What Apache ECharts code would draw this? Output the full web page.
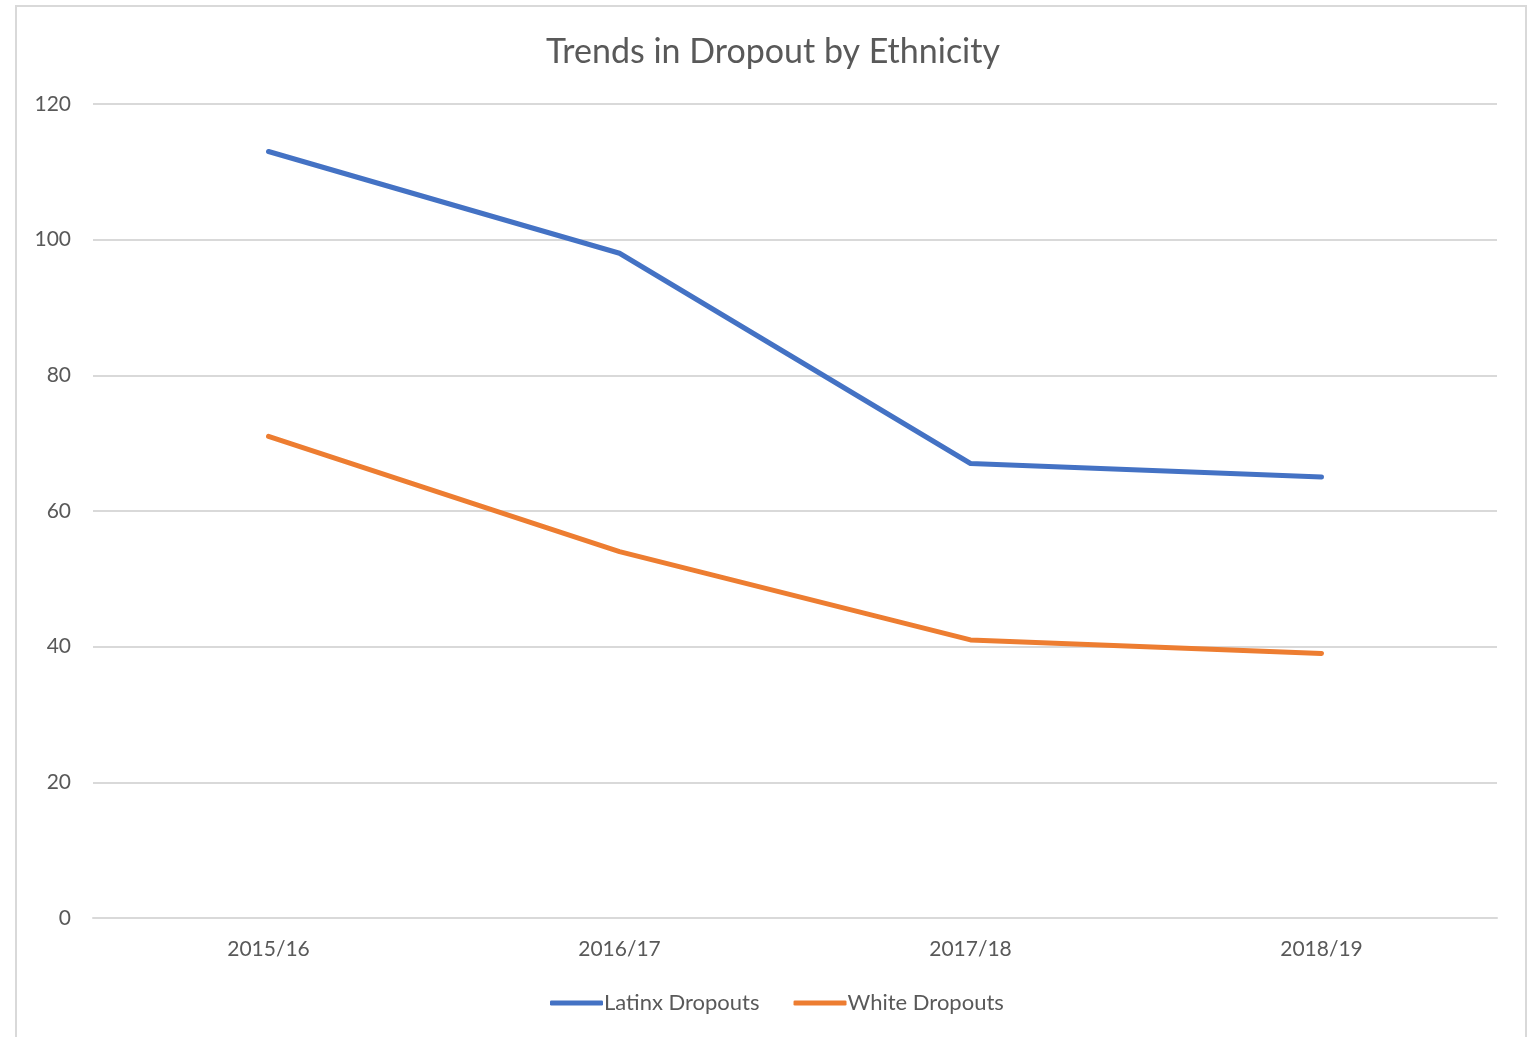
<!DOCTYPE html>
<html>
<head>
<meta charset="utf-8">
<script src="https://cdn.jsdelivr.net/npm/echarts@6/dist/echarts.min.js"></script>
<style>
  html, body { margin: 0; padding: 0; background: #fff; }
  #chart { width: 1530px; height: 1037px; }
</style>
</head>
<body>
<div id="chart"></div>
<script>
const years = ['2015/16', '2016/17', '2017/18', '2018/19'];
const latinx = [113, 98, 67, 65];
const white = [71, 54, 41, 39];
const yTicks = [0, 20, 40, 60, 80, 100, 120];

const font = 'Lato, "Open Sans", sans-serif';
const textColor = '#595959';

const chart = echarts.init(document.getElementById('chart'), null, { renderer: 'canvas' });

const option = {
  backgroundColor: '#fff',
  animation: false,
  graphic: [{
    type: 'rect',
    shape: { x: 16, y: 6, width: 1510, height: 1040 },
    style: { fill: 'none', stroke: '#d9d9d9', lineWidth: 2 },
    silent: true
  }],
  title: {
    text: 'Trends in Dropout by Ethnicity',
    left: 768,
    textAlign: 'center',
    top: 30,
    textStyle: { fontFamily: font, fontSize: 34, fontWeight: 'normal', color: textColor }
  },
  legend: {
    bottom: 18,
    left: 545,
    itemWidth: 53,
    itemHeight: 5,
    itemGap: 34,
    icon: 'roundRect',
    textStyle: { fontFamily: font, fontSize: 22, color: textColor, padding: [0, 0, 0, -4] },
    data: ['Latinx Dropouts', 'White Dropouts']
  },
  grid: { left: 93, right: 33, top: 104, bottom: 119 },
  xAxis: {
    type: 'category',
    data: years,
    boundaryGap: true,
    axisLine: { lineStyle: { color: '#d9d9d9', width: 2 } },
    axisTick: { show: false },
    axisLabel: { fontFamily: font, fontSize: 21, color: textColor, margin: 21 }
  },
  yAxis: {
    type: 'value',
    min: yTicks[0],
    max: yTicks[yTicks.length - 1],
    interval: 20,
    axisLine: { show: false },
    axisTick: { show: false },
    splitLine: { lineStyle: { color: '#d9d9d9', width: 2 } },
    axisLabel: { fontFamily: font, fontSize: 21, color: textColor, margin: 22 }
  },
  series: [
    {
      name: 'Latinx Dropouts',
      type: 'line',
      data: latinx,
      symbol: 'none',
      lineStyle: { color: '#4472C4', width: 5, cap: 'round', join: 'round' },
      itemStyle: { color: '#4472C4' }
    },
    {
      name: 'White Dropouts',
      type: 'line',
      data: white,
      symbol: 'none',
      lineStyle: { color: '#ED7D31', width: 5, cap: 'round', join: 'round' },
      itemStyle: { color: '#ED7D31' }
    }
  ]
};

chart.setOption(option);
</script>
</body>
</html>
